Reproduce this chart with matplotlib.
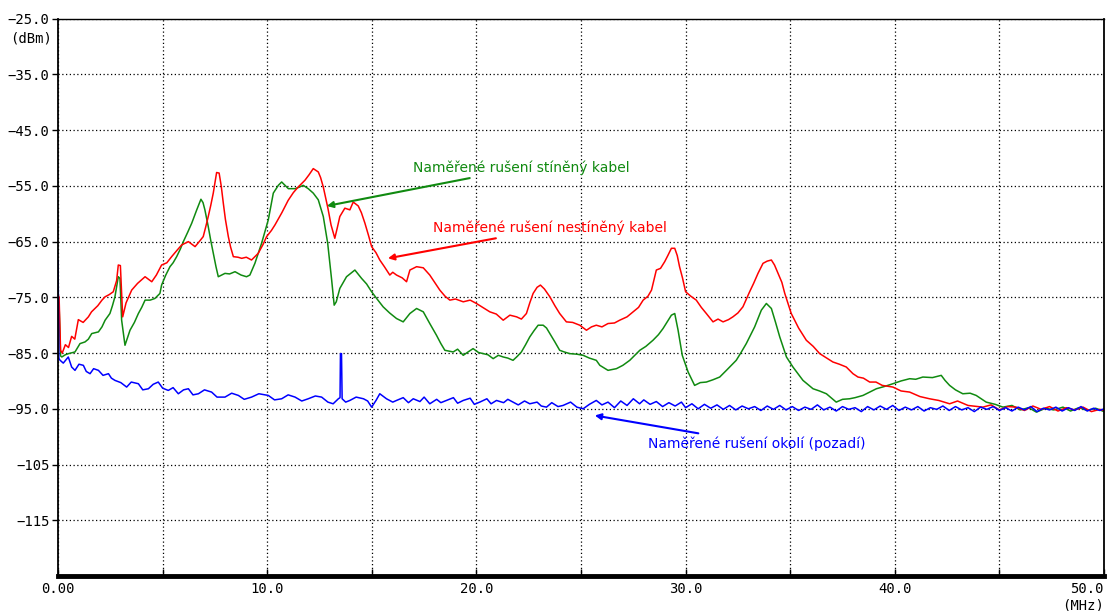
import matplotlib
matplotlib.use("Agg")
import matplotlib.pyplot as plt

# frequency (MHz) / level (dBm)
red_f = [0.0, 0.05, 0.12, 0.2, 0.35, 0.5, 0.65, 0.8, 0.97, 1.2, 1.45, 1.6, 1.9, 2.1, 2.25, 2.45,
         2.64, 2.8, 2.88, 2.98, 3.09, 3.25, 3.52, 3.8, 4.16, 4.48, 4.7, 4.95, 5.2, 5.43, 5.7,
         5.91, 6.23, 6.55, 6.75, 6.94, 7.05, 7.18, 7.3, 7.42, 7.58, 7.7, 7.8, 7.9, 8.0, 8.14,
         8.25, 8.38, 8.6, 8.78, 9.0, 9.25, 9.57, 9.8, 9.97, 10.2, 10.37, 10.7, 11.0, 11.25,
         11.48, 11.8, 12.0, 12.2, 12.44, 12.55, 12.68, 12.9, 13.05, 13.23, 13.35, 13.47, 13.71,
         13.95, 14.11, 14.35, 14.5, 14.67, 14.85, 14.99, 15.2, 15.38, 15.6, 15.86, 16.0, 16.18,
         16.45, 16.66, 16.82, 17.14, 17.46, 17.77, 18.0, 18.25, 18.5, 18.73, 19.0, 19.37, 19.7,
         20.0, 20.3, 20.64, 20.95, 21.28, 21.6, 21.92, 22.15, 22.39, 22.55, 22.71, 22.9, 23.06,
         23.25, 23.51, 23.75, 23.98, 24.3, 24.6, 24.94, 25.26, 25.5, 25.73, 26.0, 26.29, 26.6,
         26.85, 27.2, 27.49, 27.75, 27.97, 28.2, 28.37, 28.6, 28.8, 29.0, 29.15, 29.32, 29.48,
         29.6, 29.71, 29.85, 30.0, 30.25, 30.51, 30.75, 30.99, 31.31, 31.55, 31.79, 32.05,
         32.26, 32.5, 32.74, 33.06, 33.25, 33.46, 33.7, 33.9, 34.1, 34.25, 34.42, 34.6, 34.74,
         35.05, 35.4, 35.77, 36.1, 36.41, 36.7, 37.04, 37.35, 37.68, 38.0, 38.24, 38.5, 38.8,
         39.1, 39.4, 39.91, 40.3, 40.71, 41.2, 41.66, 42.1, 42.62, 43.0, 43.5, 44.21, 44.6,
         45.0, 45.4, 45.8, 46.2, 46.6, 47.0, 47.4, 47.8, 48.2, 48.6, 49.0, 49.4, 49.8, 50.0]
red_db = [-74.5, -75, -84.5, -85, -83.5, -84, -82, -82.5, -79, -79.5, -78.5, -77.6, -76.5, -75.5,
          -74.9, -74.5, -74, -72, -69.2, -69.3, -78.5, -76, -73.7, -72.5, -71.3, -72.2, -71,
          -69.2, -68.8, -67.7, -66.5, -65.6, -65, -65.9, -65, -64.1, -62.5, -60.5, -58.5, -56.3,
          -52.6, -52.7, -55, -58.1, -61, -64.1, -66, -67.7, -67.8, -68, -67.8, -68.3, -67.1,
          -65.5, -64.1, -63, -62, -59.8, -57.6, -56.2, -55.2, -54, -53, -51.9, -52.5, -53.5,
          -55.2, -59, -62, -64.4, -62.5, -60.5, -59, -59.3, -57.9, -58.6, -59.8, -61.7, -64,
          -65.9, -67, -68.3, -69.5, -71, -70.5, -71, -71.5, -72.2, -70.1, -69.5, -69.7, -71,
          -72.3, -73.7, -74.8, -75.5, -75.3, -75.8, -75.5, -76.1, -76.8, -77.6, -78, -79.1,
          -78.2, -78.5, -78.9, -77.9, -76, -74.3, -73.2, -72.8, -73.5, -74.9, -76.5, -77.9,
          -79.4, -79.5, -80, -80.9, -80.3, -80, -80.3, -79.7, -79.6, -79.1, -78.5, -77.6, -76.8,
          -75.5, -74.8, -73.7, -70.1, -69.8, -68.6, -67.5, -66.2, -66.2, -67.5, -69.5, -71.5,
          -74, -74.8, -75.5, -76.8, -77.9, -79.4, -78.9, -79.4, -79, -78.5, -77.8, -76.7, -74,
          -72.5, -70.7, -68.9, -68.5, -68.3, -69.2, -70.7, -72.3, -74.3, -77.9, -80.5, -82.7,
          -83.8, -85.1, -85.8, -86.6, -87, -87.5, -88.7, -89.3, -89.5, -90.2, -90.2, -90.8,
          -91.1, -91.8, -92, -92.8, -93.2, -93.5, -94.1, -93.6, -94.4, -94.7, -94.3, -95.2,
          -94.6, -94.7, -95.3, -94.5, -95.1, -94.6, -95.4, -94.8, -95.2, -94.7, -95.5, -95.1,
          -95.3]

green_f = [0.0, 0.05, 0.12, 0.18, 0.35, 0.5, 0.81, 1.05, 1.29, 1.45, 1.61, 1.93, 2.1, 2.25, 2.48,
           2.6, 2.72, 2.88, 2.96, 3.04, 3.2, 3.44, 3.65, 3.84, 4.0, 4.16, 4.4, 4.63, 4.87, 4.95,
           5.15, 5.35, 5.5, 5.67, 5.85, 5.99, 6.2, 6.39, 6.63, 6.83, 6.93, 7.02, 7.18, 7.3, 7.42,
           7.55, 7.66, 7.98, 8.2, 8.46, 8.75, 9.01, 9.17, 9.41, 9.73, 10.05, 10.18, 10.29, 10.53,
           10.69, 10.85, 11.01, 11.33, 11.55, 11.72, 11.96, 12.2, 12.44, 12.68, 12.89, 13.08,
           13.2, 13.3, 13.47, 13.79, 14.19, 14.51, 14.75, 14.99, 15.25, 15.54, 15.85, 16.18,
           16.5, 16.82, 17.14, 17.46, 17.77, 18.09, 18.3, 18.49, 18.89, 19.1, 19.37, 19.6, 19.84,
           20.1, 20.32, 20.55, 20.8, 21.05, 21.28, 21.5, 21.75, 21.95, 22.15, 22.35, 22.55, 22.75,
           22.95, 23.19, 23.35, 23.51, 23.75, 23.98, 24.2, 24.46, 24.8, 25.1, 25.4, 25.73, 25.9,
           26.29, 26.69, 27.0, 27.33, 27.81, 28.1, 28.44, 28.7, 28.92, 29.12, 29.32, 29.48,
           29.64, 29.84, 30.12, 30.43, 30.7, 30.99, 31.3, 31.63, 31.95, 32.42, 32.65, 32.9, 33.1,
           33.3, 33.62, 33.86, 34.1, 34.3, 34.5, 34.82, 35.13, 35.61, 36.09, 36.4, 36.73, 37.2,
           37.5, 37.84, 38.1, 38.48, 38.8, 39.12, 39.5, 39.91, 40.3, 40.71, 41.0, 41.34, 41.8,
           42.22, 42.4, 42.62, 42.9, 43.25, 43.6, 43.89, 44.37, 44.8, 45.17, 45.6, 46.0, 46.4,
           46.77, 47.2, 47.6, 48.04, 48.4, 48.8, 49.2, 49.6, 50.0]
green_db = [-76, -76.5, -85.5, -85.7, -85.3, -85.1, -84.8, -83.3, -83, -82.5, -81.5, -81.2, -80.3,
            -79.1, -77.9, -76.5, -74.9, -71.3, -71.6, -79.1, -83.6, -80.9, -79.5, -77.9, -76.8,
            -75.5, -75.5, -75.2, -74.3, -72.8, -71, -69.5, -68.8, -67.7, -66.3, -65, -63.3,
            -61.7, -59.3, -57.4, -58, -59.3, -62.3, -64.8, -67.1, -69.5, -71.3, -70.7, -70.8,
            -70.4, -71, -71.3, -71, -68.9, -65.3, -61.1, -58.5, -56.3, -54.9, -54.3, -54.9,
            -55.5, -55.5, -55.2, -54.9, -55.5, -56.3, -57.5, -60.5, -65.3, -71.9, -76.4, -75.8,
            -73.4, -71.3, -70.1, -71.6, -72.6, -74, -75.3, -76.7, -77.8, -78.8, -79.4, -77.9,
            -77, -77.6, -79.7, -81.8, -83.3, -84.5, -84.8, -84.3, -85.4, -84.8, -84.2, -84.9,
            -85.1, -85.3, -86, -85.4, -85.7, -85.9, -86.3, -85.6, -84.8, -83.5, -82.1, -81,
            -80, -80, -80.5, -81.5, -83, -84.5, -84.8, -85.1, -85.2, -85.4, -85.9, -86.3,
            -87.2, -88.1, -87.8, -87.2, -86.3, -84.5, -83.8, -82.7, -81.7, -80.6, -79.4, -78.2,
            -77.9, -80.9, -85.4, -88.4, -90.8, -90.3, -90.2, -89.8, -89.3, -88.1, -86.3, -84.9,
            -83.3, -81.8, -80.3, -77.3, -76.1, -77, -79.5, -82.1, -85.7, -87.5, -89.9, -91.4,
            -91.8, -92.3, -93.8, -93.3, -93.2, -93, -92.6, -92, -91.4, -91, -90.5, -90, -89.6,
            -89.7, -89.3, -89.4, -89, -89.9, -90.8, -91.6, -92.3, -92.2, -92.6, -93.8, -94.2,
            -94.7, -94.4, -95.2, -94.8, -95.6, -94.9, -95.2, -94.7, -95.4, -94.8, -95.3, -94.9,
            -95.5]

blue_f = [0.0, 0.04, 0.1, 0.25, 0.49, 0.65, 0.81, 1.0, 1.21, 1.35, 1.53, 1.7, 1.93, 2.15, 2.41,
          2.55, 2.72, 3.0, 3.28, 3.5, 3.84, 4.05, 4.32, 4.55, 4.79, 5.0, 5.27, 5.5, 5.75, 6.0,
          6.23, 6.45, 6.71, 7.0, 7.34, 7.6, 7.98, 8.3, 8.62, 8.9, 9.25, 9.6, 10.05, 10.35, 10.69,
          11.0, 11.33, 11.65, 11.96, 12.3, 12.6, 12.9, 13.15, 13.4, 13.48, 13.5, 13.55, 13.58,
          13.75, 13.95, 14.25, 14.6, 14.8, 14.99, 15.2, 15.38, 15.7, 16.0, 16.18, 16.5, 16.75,
          16.98, 17.3, 17.5, 17.77, 18.1, 18.3, 18.57, 18.9, 19.1, 19.37, 19.7, 19.9, 20.16,
          20.5, 20.7, 20.96, 21.3, 21.5, 21.75, 22.0, 22.3, 22.55, 22.9, 23.1, 23.35, 23.6,
          23.9, 24.14, 24.5, 24.8, 25.1, 25.4, 25.73, 26.0, 26.29, 26.6, 26.9, 27.2, 27.5, 27.8,
          28.0, 28.3, 28.6, 28.9, 29.2, 29.5, 29.8, 30.0, 30.3, 30.6, 30.9, 31.2, 31.5, 31.8,
          32.1, 32.4, 32.7, 33.0, 33.3, 33.6, 33.9, 34.2, 34.5, 34.8, 35.1, 35.4, 35.7, 36.0,
          36.3, 36.6, 36.9, 37.2, 37.5, 37.8, 38.1, 38.4, 38.7, 39.0, 39.3, 39.6, 39.9, 40.2,
          40.5, 40.8, 41.1, 41.4, 41.7, 42.0, 42.3, 42.6, 42.9, 43.2, 43.5, 43.8, 44.1, 44.4,
          44.7, 45.0, 45.3, 45.6, 45.9, 46.2, 46.5, 46.8, 47.1, 47.4, 47.7, 48.0, 48.3, 48.6,
          48.9, 49.2, 49.5, 49.8, 50.0]
blue_db = [-68.4, -86, -86.3, -86.8, -85.7, -87.5, -88.1, -87, -87.2, -88.3, -88.7, -87.8, -88.1,
           -89, -88.7, -89.5, -89.9, -90.3, -91.1, -90.2, -90.5, -91.6, -91.4, -90.6, -90.2,
           -91.3, -91.7, -91.2, -92.3, -91.6, -91.4, -92.5, -92.3, -91.6, -92, -92.9, -92.9,
           -92.2, -92.6, -93.3, -92.9, -92.3, -92.6, -93.4, -93.2, -92.5, -92.9, -93.6, -93.2,
           -92.7, -92.9, -93.8, -94.1, -93.2, -93.0, -85.1, -85.1, -93.2, -93.8, -93.5, -92.9,
           -93.2, -93.6, -94.7, -93.5, -92.3, -93.2, -93.8, -93.5, -93, -93.9, -93.2, -93.7,
           -92.9, -94.1, -93.3, -93.9, -93.5, -93, -94, -93.5, -93.1, -94.2, -93.8, -93.2,
           -94.1, -93.5, -93.9, -93.3, -93.8, -94.3, -93.6, -94.1, -93.8, -94.5, -94.7, -93.9,
           -94.6, -94.4, -93.8, -94.7, -95, -94.2, -93.5, -94.3, -93.8, -94.8, -93.6, -94.4,
           -93.2, -94.1, -93.4, -94.2, -93.7, -94.6, -93.9, -94.5, -93.8, -94.8, -94.1, -95,
           -94.2, -94.9, -94.3, -95.1, -94.4, -95.2, -94.5, -95, -94.6, -95.3, -94.5, -95.1,
           -94.4, -95.2, -94.6, -95.3, -94.7, -95.1, -94.3, -95.2, -94.7, -95.4, -94.6, -95.1,
           -94.8, -95.5, -94.6, -95.2, -94.5, -95.1, -94.4, -95.3, -94.7, -95.2, -94.6, -95.4,
           -94.8, -95.1, -94.5, -95.3, -94.6, -95.2, -94.8, -95.5, -94.7, -95.1, -94.6, -95.3,
           -94.8, -95.4, -94.7, -95.2, -94.6, -95.5, -94.9, -95.2, -94.7, -95.4, -94.8, -95.3,
           -94.6, -95.4, -94.9, -95.3, -95]

y_ticks = [-25, -35, -45, -55, -65, -75, -85, -95, -105, -115]
y_labels = ["\u221225.0", "\u221235.0", "\u221245.0", "\u221255.0", "\u221265.0", "\u221275.0",
            "\u221285.0", "\u221295.0", "\u2212105", "\u2212115"]
x_ticks = [0, 5, 10, 15, 20, 25, 30, 35, 40, 45, 50]
x_labels = ["0.00", "", "10.0", "", "20.0", "", "30.0", "", "40.0", "", "50.0"]

GREEN = "#108a10"
RED = "#ff0000"
BLUE = "#0000ff"

fig = plt.figure(figsize=(11.12, 6.11), dpi=100)
ax = fig.add_axes([0.0522, 0.0573, 0.9406, 0.9121])

ax.plot(green_f, green_db, color=GREEN, lw=1.1)
ax.plot(red_f, red_db, color=RED, lw=1.1)
ax.plot(blue_f, blue_db, color=BLUE, lw=1.1)

ax.set_xlim(0, 50)
ax.set_ylim(-125, -25)
ax.set_xticks(x_ticks)
ax.set_xticklabels(x_labels)
ax.set_yticks(y_ticks)
ax.set_yticklabels(y_labels)
ax.grid(True, color="black", linestyle=(0, (1, 2)), linewidth=0.9)

mono = "DejaVu Sans Mono"
for lab in ax.get_xticklabels() + ax.get_yticklabels():
    lab.set_fontfamily(mono)
    lab.set_fontsize(10)
ax.get_xticklabels()[-1].set_horizontalalignment("right")
ax.tick_params(axis="y", direction="out", length=4, width=1, pad=2, colors="black")
ax.tick_params(axis="x", direction="in", length=5, width=1, pad=4)

ax.spines["bottom"].set_linewidth(3.5)
ax.spines["left"].set_linewidth(1.3)
ax.spines["top"].set_linewidth(1.0)
ax.spines["right"].set_linewidth(1.3)

ax.annotate("(dBm)", xy=(0, 1), xycoords="axes fraction", xytext=(-4, -14),
            textcoords="offset points", ha="right", va="center", fontfamily=mono, fontsize=10)
ax.annotate("(MHz)", xy=(1, 0), xycoords="axes fraction", xytext=(0, -21),
            textcoords="offset points", ha="right", va="center", fontfamily=mono, fontsize=10)

arrow = dict(arrowstyle="-|>", lw=1.5, mutation_scale=9, shrinkA=0, shrinkB=0)
ax.annotate("Naměřené rušení stíněný kabel", xy=(12.85, -58.6), xytext=(16.96, -51.8),
            color=GREEN, fontsize=10, va="center", ha="left",
            arrowprops=dict(arrow, color=GREEN))
ax.annotate("Naměřené rušení nestíněný kabel", xy=(15.77, -68.0), xytext=(17.92, -62.6),
            color=RED, fontsize=10, va="center", ha="left",
            arrowprops=dict(arrow, color=RED))
ax.annotate("Naměřené rušení okolí (pozadí)", xy=(25.66, -96.2), xytext=(28.19, -101.2),
            color=BLUE, fontsize=10, va="center", ha="left",
            arrowprops=dict(arrow, color=BLUE))

fig.savefig("out.png", dpi=100)
